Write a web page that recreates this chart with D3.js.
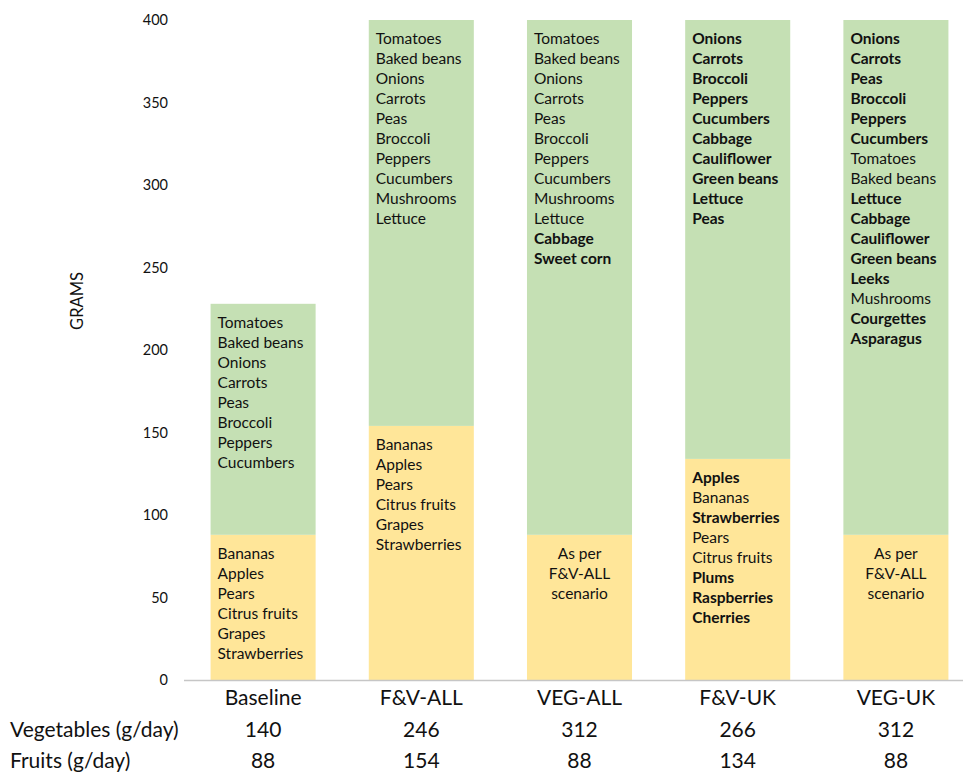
<!DOCTYPE html>
<html>
<head>
<meta charset="utf-8">
<script src="https://cdn.jsdelivr.net/npm/d3@7"></script>
<style>
  html, body { margin: 0; padding: 0; background: #fff; }
  svg { display: block; font-family: Lato, "Noto Sans", sans-serif; }
</style>
</head>
<body>
<svg id="chart" width="963" height="773"></svg>
<script>
// ---- data ----
const categories = ["Baseline", "F&V-ALL", "VEG-ALL", "F&V-UK", "VEG-UK"];
const vegetables = [140, 246, 312, 266, 312];
const fruits = [88, 154, 88, 134, 88];
const yTicks = [0, 50, 100, 150, 200, 250, 300, 350, 400];
const rowLabels = ["Vegetables (g/day)", "Fruits (g/day)"];

// item lists: [name, bold?]
const vegBaseline = [["Tomatoes",0],["Baked beans",0],["Onions",0],["Carrots",0],["Peas",0],["Broccoli",0],["Peppers",0],["Cucumbers",0]];
const vegFVALL = [["Tomatoes",0],["Baked beans",0],["Onions",0],["Carrots",0],["Peas",0],["Broccoli",0],["Peppers",0],["Cucumbers",0],["Mushrooms",0],["Lettuce",0]];
const vegVEGALL = [["Tomatoes",0],["Baked beans",0],["Onions",0],["Carrots",0],["Peas",0],["Broccoli",0],["Peppers",0],["Cucumbers",0],["Mushrooms",0],["Lettuce",0],["Cabbage",1],["Sweet corn",1]];
const vegFVUK = [["Onions",1],["Carrots",1],["Broccoli",1],["Peppers",1],["Cucumbers",1],["Cabbage",1],["Cauliflower",1],["Green beans",1],["Lettuce",1],["Peas",1]];
const vegVEGUK = [["Onions",1],["Carrots",1],["Peas",1],["Broccoli",1],["Peppers",1],["Cucumbers",1],["Tomatoes",0],["Baked beans",0],["Lettuce",1],["Cabbage",1],["Cauliflower",1],["Green beans",1],["Leeks",1],["Mushrooms",0],["Courgettes",1],["Asparagus",1]];

const fruitBaseline = [["Bananas",0],["Apples",0],["Pears",0],["Citrus fruits",0],["Grapes",0],["Strawberries",0]];
const fruitFVALL = [["Bananas",0],["Apples",0],["Pears",0],["Citrus fruits",0],["Grapes",0],["Strawberries",0]];
const fruitFVUK = [["Apples",1],["Bananas",0],["Strawberries",1],["Pears",0],["Citrus fruits",0],["Plums",1],["Raspberries",1],["Cherries",1]];
const asPerNote = ["As per", "F&V-ALL", "scenario"];

const vegLists = [vegBaseline, vegFVALL, vegVEGALL, vegFVUK, vegVEGUK];
const fruitLists = [fruitBaseline, fruitFVALL, null, fruitFVUK, null];

// ---- chart ----
const svg = d3.select("#chart");
const y = d3.scaleLinear().domain([0, 400]).range([680, 20]);
const x = d3.scaleBand().domain(categories).range([184, 975]).paddingInner(0.336).paddingOuter(0.168);

const COLOR_VEG = "#c5e0b4";
const COLOR_FRUIT = "#ffe699";
const TEXT = "#111";

const rows = categories.map((c, i) => ({ c, i, veg: vegetables[i], fruit: fruits[i] }));

// y axis (labels only)
const yAxis = d3.axisLeft(y).tickValues(yTicks).tickSize(0).tickPadding(0);
const gy = svg.append("g").attr("transform", "translate(168,0)").call(yAxis);
gy.select(".domain").remove();
gy.selectAll("text").attr("font-size", 14.5).attr("fill", TEXT).attr("font-family", "Lato");

// y title
svg.append("text").attr("transform", "translate(83,301) rotate(-90)")
  .attr("text-anchor", "middle").attr("font-size", 16.5).attr("fill", TEXT).text("GRAMS");

// bars
const g = svg.append("g");
g.selectAll("rect.fruit").data(rows).join("rect").attr("class", "fruit")
  .attr("x", d => x(d.c)).attr("width", x.bandwidth())
  .attr("y", d => y(d.fruit)).attr("height", d => y(0) - y(d.fruit))
  .attr("fill", COLOR_FRUIT);
g.selectAll("rect.veg").data(rows).join("rect").attr("class", "veg")
  .attr("x", d => x(d.c)).attr("width", x.bandwidth())
  .attr("y", d => y(d.fruit + d.veg)).attr("height", d => y(d.fruit) - y(d.fruit + d.veg))
  .attr("fill", COLOR_VEG);

// x baseline
svg.append("line").attr("x1", 184).attr("x2", 963).attr("y1", y(0) + 0.5).attr("y2", y(0) + 0.5)
  .attr("stroke", "#c6c6c6").attr("stroke-width", 1.3);

// list text
const LINE = 20, FIRST = 24, LEFT = 7, LIST_FS = 15.5;
function drawList(items, x0, top) {
  const t = svg.append("text").attr("font-size", LIST_FS).attr("fill", TEXT);
  items.forEach((it, k) => {
    t.append("tspan").attr("x", x0).attr("y", top + FIRST + k * LINE)
      .attr("font-weight", it[1] ? 700 : 400).text(it[0]);
  });
}
rows.forEach(d => {
  const x0 = x(d.c);
  drawList(vegLists[d.i], x0 + LEFT, y(d.fruit + d.veg));
  if (fruitLists[d.i]) {
    drawList(fruitLists[d.i], x0 + LEFT, y(d.fruit));
  } else {
    const t = svg.append("text").attr("font-size", LIST_FS).attr("fill", TEXT).attr("text-anchor", "middle");
    asPerNote.forEach((s, k) => t.append("tspan").attr("x", x0 + x.bandwidth() / 2)
      .attr("y", y(d.fruit) + FIRST + k * LINE).text(s));
  }
});

// category labels
svg.selectAll("text.cat").data(rows).join("text").attr("class", "cat")
  .attr("x", d => x(d.c) + x.bandwidth() / 2).attr("y", 705)
  .attr("text-anchor", "middle").attr("font-size", 21).attr("fill", TEXT).text(d => d.c);

// table rows
const tableY = [737, 768];
const tableVals = [vegetables, fruits];
rowLabels.forEach((lab, r) => {
  svg.append("text").attr("x", 10).attr("y", tableY[r]).attr("font-size", 21).attr("fill", TEXT).text(lab);
  svg.selectAll("text.val" + r).data(rows).join("text").attr("class", "val" + r)
    .attr("x", d => x(d.c) + x.bandwidth() / 2).attr("y", tableY[r])
    .attr("text-anchor", "middle").attr("font-size", 21).attr("fill", TEXT)
    .text(d => tableVals[r][d.i]);
});
</script>
</body>
</html>
